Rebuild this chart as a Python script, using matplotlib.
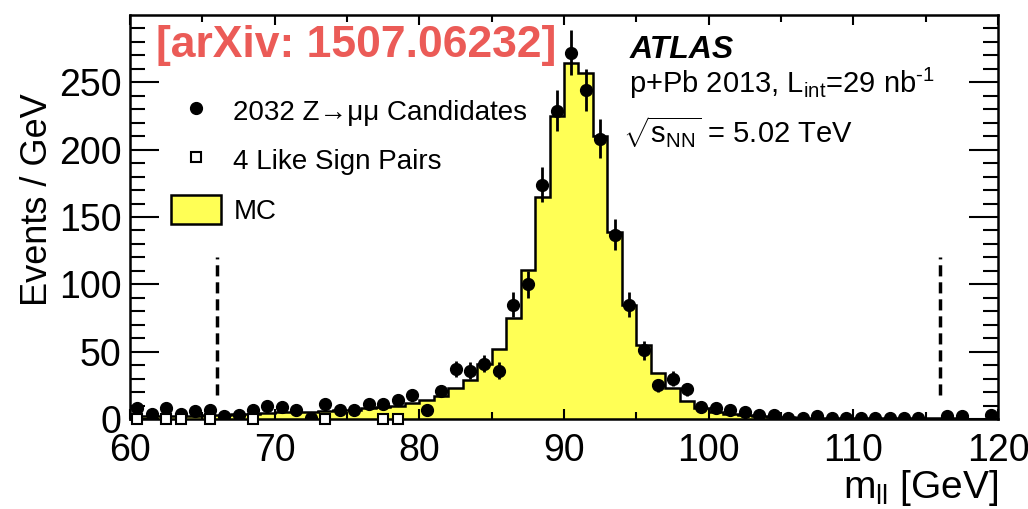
import numpy as np
import matplotlib
matplotlib.use('Agg')
from matplotlib import pyplot as plt
from matplotlib.lines import Line2D
from matplotlib.patches import Patch

plt.rcParams['font.family'] = ['Liberation Sans', 'DejaVu Sans']
plt.rcParams['mathtext.fontset'] = 'custom'
plt.rcParams['mathtext.rm'] = 'Liberation Sans'
plt.rcParams['mathtext.it'] = 'Liberation Sans:italic'
plt.rcParams['mathtext.bf'] = 'Liberation Sans:bold'

# 1 GeV bins from 60 to 120
bin_edges = list(range(60, 121))

# data: Z->mumu candidates per GeV
data_counts = [8, 4, 8, 4, 6, 7, 2, 3, 7, 10,
               9, 7, 1, 11, 7, 7, 11, 11, 14, 18,
               7, 21, 37, 36, 41, 36, 85, 100, 174, 229,
               272, 244, 208, 137, 85, 51, 25, 30, 22, 9,
               8, 7, 5, 3, 3, 1, 1, 2, 1, 1,
               1, 1, 1, 1, 1, 0, 2, 2, 0, 3]

# MC expectation
mc_counts = [2, 2, 2.5, 2.5, 2.5, 3, 3, 3.5, 4, 4.5,
             5, 5.5, 5.5, 6, 6.5, 7, 8, 9, 10, 12,
             14, 17, 23, 29, 41, 52, 75, 111, 165, 225,
             264, 257, 210, 139, 85, 55, 34, 23, 13, 8,
             5, 4, 3, 2, 1.5, 1.2, 1, 0.8, 0.7, 0.6,
             0.5, 0.5, 0.5, 0.4, 0.4, 0.4, 0.4, 0.3, 0.3, 0.3]

# like sign pairs
ls_mass = [60.5, 62.5, 63.5, 65.5, 68.5, 73.5, 77.5, 78.5]
ls_counts = [0, 0, 0, 0, 0, 0, 0, 0]

# mass window
window = [66, 116]

yellow = '#FFFF55'

fig = plt.figure(figsize=(10.28, 5.09), dpi=100)
ax = fig.add_axes([130/1028, 1-419/509, 868/1028, 404/509])

edges = np.array(bin_edges)
centers = 0.5*(edges[:-1]+edges[1:])
d = np.array(data_counts, dtype=float)
mc = np.array(mc_counts)

ax.stairs(mc, edges, fill=True, color=yellow, zorder=1)
ax.stairs(mc, edges, color='black', lw=1.8, zorder=2)

for x in window:
    ax.plot([x, x], [18, 120], color='black', lw=2.5, dashes=(3.2, 1.7), zorder=2)

m = d > 0
ax.errorbar(centers[m], d[m], yerr=np.sqrt(d[m]), fmt='o', color='black',
            ms=8.5, elinewidth=2, capsize=0, zorder=4)
ax.plot(ls_mass, ls_counts, 's', mfc='white', mec='black', ms=7.5, mew=1.5,
        clip_on=False, zorder=5)

ax.set_xlim(60, 120)
ax.set_ylim(0, 300)
ax.set_xticks(range(60, 121, 10))
ax.set_xticks(range(60, 121, 5), minor=True)
ax.set_yticks(range(0, 251, 50))
ax.set_yticks(range(0, 300, 10), minor=True)
ax.tick_params(axis='both', which='both', direction='in', top=True, right=True,
               width=1.5, color='black')
ax.tick_params(axis='x', which='major', length=7, labelsize=27, pad=10)
ax.tick_params(axis='x', which='minor', length=5)
ax.tick_params(axis='y', which='major', length=21, labelsize=27, pad=6)
ax.tick_params(axis='y', which='minor', length=11)
for s in ax.spines.values():
    s.set_linewidth(1.8)

ax.set_xlabel(r'm$_{\rm ll}$ [GeV]', fontsize=28, loc='right')
ax.xaxis.set_label_coords(1.0, -0.122)
fig.text(38/1028, 1-93/509, 'Events / GeV', rotation=90, fontsize=26,
         ha='center', va='top')

ax.text(0.03, 0.975, '[arXiv: 1507.06232]', transform=ax.transAxes,
        fontsize=32, fontweight='bold', color='#EB5B57', ha='left', va='top')
ax.text(0.576, 0.95, 'ATLAS', transform=ax.transAxes, fontsize=23,
        fontweight='bold', fontstyle='italic', ha='left', va='top')
ax.text(0.575, 0.83, r'p+Pb 2013, L$_{\rm int}$=29 nb$^{\text{-1}}$', transform=ax.transAxes,
        fontsize=21, ha='left', va='center')
ax.text(0.568, 0.71, r'$\sqrt{\rm s_{NN}}$ = 5.02 TeV', transform=ax.transAxes,
        fontsize=21, ha='left', va='center')

handles = [Line2D([], [], marker='o', ls='none', color='black', ms=8.5),
           Line2D([], [], marker='s', ls='none', mfc='white', mec='black', ms=7.5, mew=1.5),
           Patch(facecolor=yellow, edgecolor='black', lw=1.8)]
labels = [u'2032 Z\u2192\u03bc\u03bc Candidates', '4 Like Sign Pairs', 'MC']
ax.legend(handles, labels, loc='upper left', bbox_to_anchor=(0.047, 0.80),
          frameon=False, fontsize=20, handlelength=1.8, handleheight=1.25,
          handletextpad=0.45, labelspacing=0.7, borderpad=0, borderaxespad=0)

fig.savefig('out.png', dpi=100)
